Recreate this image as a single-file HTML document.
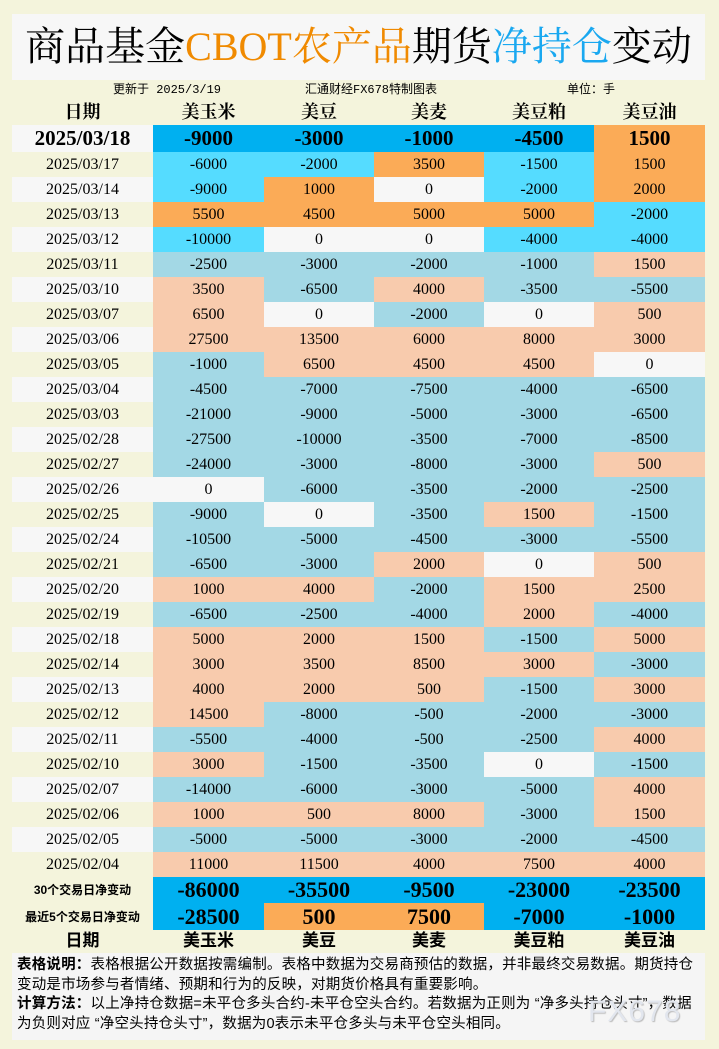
<!DOCTYPE html>
<html><head><meta charset="utf-8"><style>
*{margin:0;padding:0;box-sizing:border-box}
body{width:719px;height:1049px;background:#f4f4dc;position:relative;overflow:hidden;font-family:"Liberation Serif","Noto Serif CJK SC",serif;color:#000}
.title{position:absolute;left:12px;top:14px;width:693px;height:66px;background:#f7f7f7;text-align:center;font-size:40px;line-height:66px;font-weight:normal;font-family:"Liberation Serif","Noto Serif CJK SC",serif}
.o{color:#f08a00}.b{color:#1aa8f0}
.sub{position:absolute;top:82px;font-size:12px;line-height:16px;font-family:"Liberation Mono","Noto Sans CJK SC",monospace}
table{position:absolute;left:12px;top:100px;border-collapse:collapse;table-layout:fixed;width:693px}
td{text-align:center;padding:0;font-size:16px;height:25px;line-height:25px;font-family:"Liberation Serif","Noto Serif CJK SC",serif}
tr.h td{height:25px;font-size:18px;font-weight:bold;line-height:25px}
tr.f td{height:27px;font-size:21px;font-weight:bold;line-height:27px}
tr.s td{height:26px;font-size:22px;line-height:26px;font-weight:bold}
tr.s td:first-child{font-size:12px;font-weight:bold;font-family:"Liberation Sans","Noto Sans CJK SC",sans-serif}
tr.l td{height:22px;font-size:17px;font-weight:bold;line-height:22px;font-family:"Liberation Sans","Noto Sans CJK SC",sans-serif}
.g{background:#f7f7f7}
.D{background:#00b0f0}.C{background:#55dcff}.O{background:#fbab57}.W{background:#f7f7f7}
.p{background:#f8cbad}.n{background:#a3d8e5}
.notes{position:absolute;left:12px;top:953px;width:693px;height:87px;background:#f5f5f5;padding:3px 5px;font-size:14.5px;line-height:19.5px;letter-spacing:0.2px;font-family:"Liberation Sans","Noto Sans CJK SC",sans-serif}
.wm{position:absolute;left:588px;top:995px;font-size:30px;color:#e2e6ee;font-family:"Liberation Sans",sans-serif;letter-spacing:1px;text-shadow:1px 1px 1px #bbb}
</style></head><body>
<div class="title">商品基金<span class="o">CBOT农产品</span>期货<span class="b">净持仓</span>变动</div>
<div class="sub" style="left:113px">更新于 2025/3/19</div>
<div class="sub" style="left:305px">汇通财经FX678特制图表</div>
<div class="sub" style="left:567px">单位：手</div>
<table>
<colgroup><col style="width:141px"><col style="width:111px"><col style="width:110px"><col style="width:110px"><col style="width:110px"><col style="width:111px"></colgroup>
<tr class="h"><td>日期</td><td>美玉米</td><td>美豆</td><td>美麦</td><td>美豆粕</td><td>美豆油</td></tr>
<tr class="f"><td class="g">2025/03/18</td><td class="D">-9000</td><td class="D">-3000</td><td class="D">-1000</td><td class="D">-4500</td><td class="O">1500</td></tr>
<tr><td>2025/03/17</td><td class="C">-6000</td><td class="C">-2000</td><td class="O">3500</td><td class="C">-1500</td><td class="O">1500</td></tr>
<tr><td class="g">2025/03/14</td><td class="C">-9000</td><td class="O">1000</td><td class="W">0</td><td class="C">-2000</td><td class="O">2000</td></tr>
<tr><td>2025/03/13</td><td class="O">5500</td><td class="O">4500</td><td class="O">5000</td><td class="O">5000</td><td class="C">-2000</td></tr>
<tr><td class="g">2025/03/12</td><td class="C">-10000</td><td class="W">0</td><td class="W">0</td><td class="C">-4000</td><td class="C">-4000</td></tr>
<tr><td>2025/03/11</td><td class="n">-2500</td><td class="n">-3000</td><td class="n">-2000</td><td class="n">-1000</td><td class="p">1500</td></tr>
<tr><td class="g">2025/03/10</td><td class="p">3500</td><td class="n">-6500</td><td class="p">4000</td><td class="n">-3500</td><td class="n">-5500</td></tr>
<tr><td>2025/03/07</td><td class="p">6500</td><td class="W">0</td><td class="n">-2000</td><td class="W">0</td><td class="p">500</td></tr>
<tr><td class="g">2025/03/06</td><td class="p">27500</td><td class="p">13500</td><td class="p">6000</td><td class="p">8000</td><td class="p">3000</td></tr>
<tr><td>2025/03/05</td><td class="n">-1000</td><td class="p">6500</td><td class="p">4500</td><td class="p">4500</td><td class="W">0</td></tr>
<tr><td class="g">2025/03/04</td><td class="n">-4500</td><td class="n">-7000</td><td class="n">-7500</td><td class="n">-4000</td><td class="n">-6500</td></tr>
<tr><td>2025/03/03</td><td class="n">-21000</td><td class="n">-9000</td><td class="n">-5000</td><td class="n">-3000</td><td class="n">-6500</td></tr>
<tr><td class="g">2025/02/28</td><td class="n">-27500</td><td class="n">-10000</td><td class="n">-3500</td><td class="n">-7000</td><td class="n">-8500</td></tr>
<tr><td>2025/02/27</td><td class="n">-24000</td><td class="n">-3000</td><td class="n">-8000</td><td class="n">-3000</td><td class="p">500</td></tr>
<tr><td class="g">2025/02/26</td><td class="W">0</td><td class="n">-6000</td><td class="n">-3500</td><td class="n">-2000</td><td class="n">-2500</td></tr>
<tr><td>2025/02/25</td><td class="n">-9000</td><td class="W">0</td><td class="n">-3500</td><td class="p">1500</td><td class="n">-1500</td></tr>
<tr><td class="g">2025/02/24</td><td class="n">-10500</td><td class="n">-5000</td><td class="n">-4500</td><td class="n">-3000</td><td class="n">-5500</td></tr>
<tr><td>2025/02/21</td><td class="n">-6500</td><td class="n">-3000</td><td class="p">2000</td><td class="W">0</td><td class="p">500</td></tr>
<tr><td class="g">2025/02/20</td><td class="p">1000</td><td class="p">4000</td><td class="n">-2000</td><td class="p">1500</td><td class="p">2500</td></tr>
<tr><td>2025/02/19</td><td class="n">-6500</td><td class="n">-2500</td><td class="n">-4000</td><td class="p">2000</td><td class="n">-4000</td></tr>
<tr><td class="g">2025/02/18</td><td class="p">5000</td><td class="p">2000</td><td class="p">1500</td><td class="n">-1500</td><td class="p">5000</td></tr>
<tr><td>2025/02/14</td><td class="p">3000</td><td class="p">3500</td><td class="p">8500</td><td class="p">3000</td><td class="n">-3000</td></tr>
<tr><td class="g">2025/02/13</td><td class="p">4000</td><td class="p">2000</td><td class="p">500</td><td class="n">-1500</td><td class="p">3000</td></tr>
<tr><td>2025/02/12</td><td class="p">14500</td><td class="n">-8000</td><td class="n">-500</td><td class="n">-2000</td><td class="n">-3000</td></tr>
<tr><td class="g">2025/02/11</td><td class="n">-5500</td><td class="n">-4000</td><td class="n">-500</td><td class="n">-2500</td><td class="p">4000</td></tr>
<tr><td>2025/02/10</td><td class="p">3000</td><td class="n">-1500</td><td class="n">-3500</td><td class="W">0</td><td class="n">-1500</td></tr>
<tr><td class="g">2025/02/07</td><td class="n">-14000</td><td class="n">-6000</td><td class="n">-3000</td><td class="n">-5000</td><td class="p">4000</td></tr>
<tr><td>2025/02/06</td><td class="p">1000</td><td class="p">500</td><td class="p">8000</td><td class="n">-3000</td><td class="p">1500</td></tr>
<tr><td class="g">2025/02/05</td><td class="n">-5000</td><td class="n">-5000</td><td class="n">-3000</td><td class="n">-2000</td><td class="n">-4500</td></tr>
<tr><td>2025/02/04</td><td class="p">11000</td><td class="p">11500</td><td class="p">4000</td><td class="p">7500</td><td class="p">4000</td></tr>
<tr class="s"><td>30个交易日净变动</td><td class="D">-86000</td><td class="D">-35500</td><td class="D">-9500</td><td class="D">-23000</td><td class="D">-23500</td></tr>
<tr class="s" style="height:27px"><td>最近5个交易日净变动</td><td class="D">-28500</td><td class="O">500</td><td class="O">7500</td><td class="D">-7000</td><td class="D">-1000</td></tr>
<tr class="l"><td>日期</td><td>美玉米</td><td>美豆</td><td>美麦</td><td>美豆粕</td><td>美豆油</td></tr>
</table>
<div class="notes"><b>表格说明：</b>表格根据公开数据按需编制。表格中数据为交易商预估的数据，并非最终交易数据。期货持仓变动是市场参与者情绪、预期和行为的反映，对期货价格具有重要影响。<br><b>计算方法：</b>以上净持仓数据=未平仓多头合约-未平仓空头合约。若数据为正则为 “净多头持仓头寸”，数据为负则对应 “净空头持仓头寸”，数据为0表示未平仓多头与未平仓空头相同。</div>
<div class="wm">FX678</div>
</body></html>
